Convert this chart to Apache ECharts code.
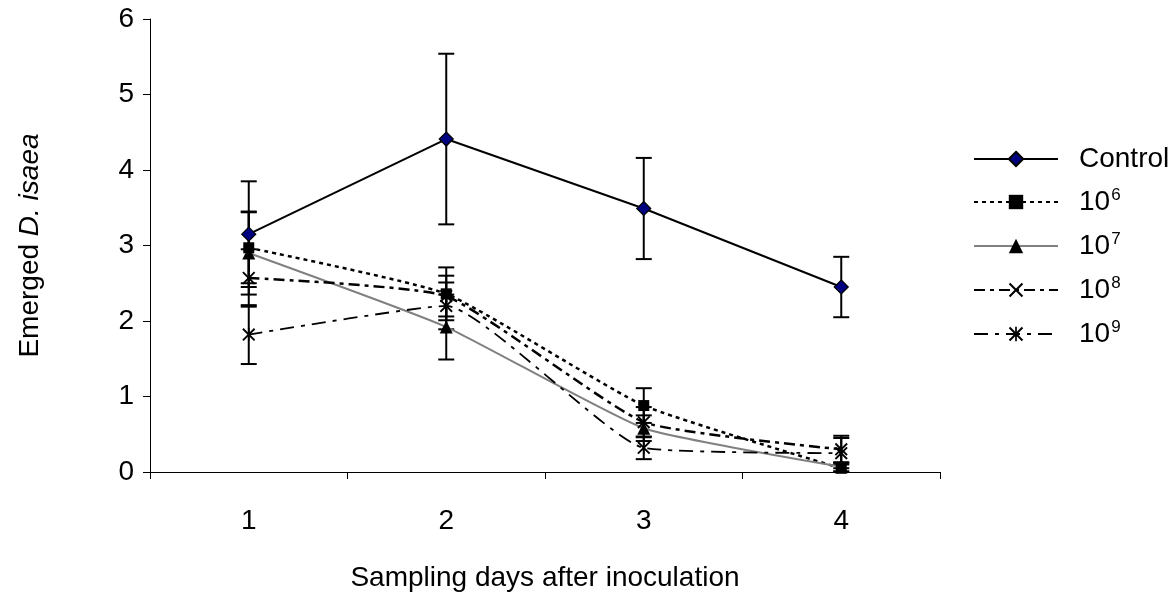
<!DOCTYPE html>
<html>
<head>
<meta charset="utf-8">
<script src="https://cdn.jsdelivr.net/npm/echarts@6/dist/echarts.min.js"></script>
<style>
html,body{margin:0;padding:0;background:#fff;}
#chart{width:1174px;height:610px;}
</style>
</head>
<body>
<div id="chart"></div>
<script>
var categories = ['1', '2', '3', '4'];
var yTicks = [0, 1, 2, 3, 4, 5, 6];

var controlVals = [3.15, 4.41, 3.49, 2.45];
var controlErr  = [0.70, 1.13, 0.67, 0.40];
var e6Vals = [2.97, 2.36, 0.88, 0.05];
var e6Err  = [0.47, 0.35, 0.23, 0.05];
var e7Vals = [2.90, 1.92, 0.58, 0.07];
var e7Err  = [0.55, 0.43, 0.17, 0.06];
var e8Vals = [2.57, 2.33, 0.66, 0.30];
var e8Err  = [0.38, 0.27, 0.20, 0.18];
var e9Vals = [1.82, 2.20, 0.32, 0.25];
var e9Err  = [0.39, 0.31, 0.15, 0.20];

var seriesNames = ['Control', '10^6', '10^7', '10^8', '10^9'];

var FONT = '"Liberation Sans", Arial, sans-serif';
var FS = 28;
var X_PATH = 'path://M0,1 L1,0 L10,9 L9,10 Z M9,0 L10,1 L1,10 L0,9 Z';
var STAR_PATH = 'path://M0,1 L1,0 L10,9 L9,10 Z M9,0 L10,1 L1,10 L0,9 Z M4.4,0 L5.6,0 L5.6,10 L4.4,10 Z';

function errSeries(vals, errs) {
  return {
    type: 'custom',
    z: 1,
    silent: true,
    data: vals.map(function (v, i) { return [i, v, errs[i]]; }),
    renderItem: function (params, api) {
      var x = api.value(0), v = api.value(1), e = api.value(2);
      var top = api.coord([x, v + e]);
      var bot = api.coord([x, v - e]);
      var hw = 8;
      var st = { stroke: '#000', lineWidth: 2 };
      return {
        type: 'group',
        children: [
          { type: 'line', shape: { x1: top[0], y1: top[1], x2: bot[0], y2: bot[1] }, style: st },
          { type: 'line', shape: { x1: top[0] - hw, y1: top[1], x2: top[0] + hw, y2: top[1] }, style: st },
          { type: 'line', shape: { x1: bot[0] - hw, y1: bot[1], x2: bot[0] + hw, y2: bot[1] }, style: st }
        ]
      };
    }
  };
}

function lineSeries(name, vals, color, width, dash, symbol, size, fill, smooth) {
  return {
    name: name,
    type: 'line',
    z: 3,
    data: vals,
    smooth: smooth,
    symbol: symbol,
    symbolSize: size,
    showAllSymbol: true,
    lineStyle: { color: color, width: width, type: dash },
    itemStyle: { color: fill, borderColor: '#000', borderWidth: symbol === 'diamond' ? 1.2 : 0 },
    emphasis: { disabled: true }
  };
}

var chart = echarts.init(document.getElementById('chart'), null, { renderer: 'canvas' });

var option = {
  animation: false,
  backgroundColor: '#fff',
  textStyle: { fontFamily: FONT },
  grid: { left: 150, right: 234, top: 19, bottom: 138, containLabel: false },
  legend: {
    orient: 'vertical',
    left: 973,
    top: 145,
    padding: 0,
    itemWidth: 84,
    itemHeight: 18,
    itemGap: 14,
    data: seriesNames,
    textStyle: {
      fontFamily: FONT,
      fontSize: FS,
      color: '#000',
      rich: {
        b: { fontFamily: FONT, fontSize: FS, lineHeight: 30, color: '#000', padding: [0, 0, 0, 16] },
        s: { fontFamily: FONT, fontSize: 17, lineHeight: 17, color: '#000', padding: [0, 0, 13, 1] }
      }
    },
    formatter: function (name) {
      if (name.indexOf('^') > 0) {
        var p = name.split('^');
        return '{b|' + p[0] + '}{s|' + p[1] + '}';
      }
      return '{b|' + name + '}';
    }
  },
  xAxis: {
    type: 'category',
    data: categories,
    boundaryGap: true,
    name: 'Sampling days after inoculation',
    nameLocation: 'middle',
    nameGap: 92,
    nameTextStyle: { fontFamily: FONT, fontSize: FS, color: '#000' },
    axisLine: { onZero: false, lineStyle: { color: '#000', width: 1 } },
    axisTick: { show: true, alignWithLabel: false, inside: false, length: 7, lineStyle: { color: '#000' } },
    axisLabel: { fontFamily: FONT, fontSize: FS, color: '#000', margin: 35 },
    splitLine: { show: false }
  },
  yAxis: {
    type: 'value',
    min: yTicks[0],
    max: yTicks[yTicks.length - 1],
    interval: 1,
    name: '{n|Emerged }{i|D. isaea}',
    nameLocation: 'middle',
    nameRotate: 90,
    nameGap: 106,
    nameTextStyle: {
      rich: {
        n: { fontFamily: FONT, fontSize: FS, color: '#000' },
        i: { fontFamily: FONT, fontSize: FS, color: '#000', fontStyle: 'italic' }
      }
    },
    axisLine: { show: true, lineStyle: { color: '#000', width: 1 } },
    axisTick: { show: true, length: 7, lineStyle: { color: '#000' } },
    axisLabel: { fontFamily: FONT, fontSize: FS, color: '#000', margin: 16 },
    splitLine: { show: false }
  },
  series: [
    errSeries(controlVals, controlErr),
    errSeries(e6Vals, e6Err),
    errSeries(e7Vals, e7Err),
    errSeries(e8Vals, e8Err),
    errSeries(e9Vals, e9Err),
    lineSeries('Control', controlVals, '#000', 2, 'solid', 'diamond', 14, '#000080', false),
    lineSeries('10^6', e6Vals, '#000', 2.5, [4, 4], 'rect', 11, '#000', 0.15),
    lineSeries('10^7', e7Vals, '#808080', 2, 'solid', 'triangle', 13, '#000', 0.15),
    lineSeries('10^8', e8Vals, '#000', 2.5, [11, 5, 4, 5], X_PATH, 13, '#000', 0.15),
    lineSeries('10^9', e9Vals, '#000', 1.8, [14, 7, 4, 7], STAR_PATH, 13, '#000', 0.15)
  ]
};

chart.setOption(option);
</script>
</body>
</html>
